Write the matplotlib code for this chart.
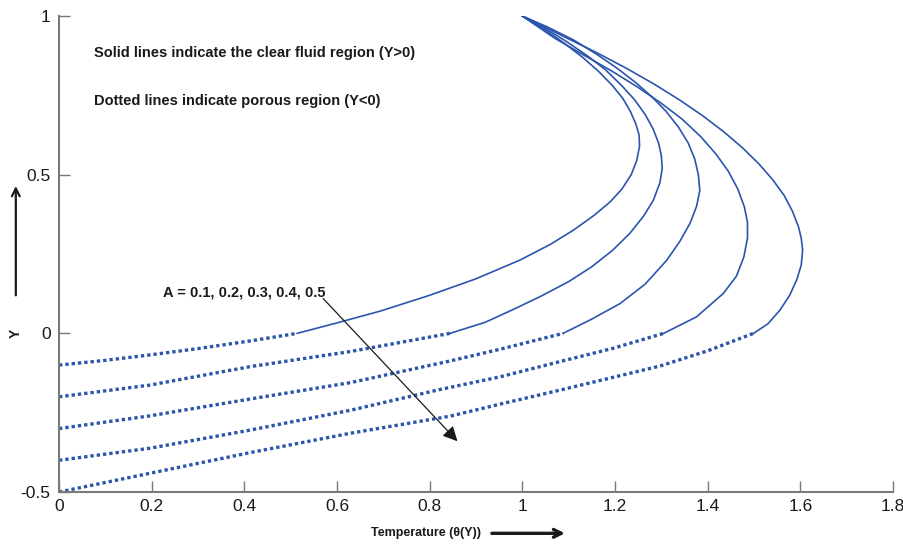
import numpy as np
import matplotlib.pyplot as plt
from matplotlib.patches import FancyArrowPatch

plt.rcParams['font.family'] = ['Liberation Sans', 'DejaVu Sans']

# Temperature profiles theta(Y) for A = 0.1 ... 0.5
A_values = [0.1, 0.2, 0.3, 0.4, 0.5]

# porous region (Y<0): dotted
porous_theta = [
    [0.0, 0.10, 0.196, 0.30, 0.412, 0.514],
    [0.0, 0.196, 0.412, 0.63, 0.844],
    [0.0, 0.196, 0.412, 0.63, 0.844, 0.952, 1.088],
    [0.0, 0.196, 0.412, 0.63, 0.822, 0.952, 1.081, 1.196, 1.305],
    [0.0, 0.196, 0.412, 0.628, 0.844, 0.952, 1.081, 1.297, 1.40, 1.499],
]
porous_Y = [
    [-0.10, -0.085, -0.068, -0.048, -0.024, 0.0],
    [-0.20, -0.163, -0.105, -0.057, 0.0],
    [-0.30, -0.260, -0.207, -0.155, -0.087, -0.050, 0.0],
    [-0.40, -0.362, -0.305, -0.242, -0.177, -0.137, -0.089, -0.047, 0.0],
    [-0.50, -0.441, -0.376, -0.315, -0.261, -0.223, -0.179, -0.103, -0.055, 0.0],
]

# clear fluid region (Y>0): solid
fluid_theta = [
    [0.514, 0.60, 0.693, 0.80, 0.90, 0.995, 1.06, 1.11, 1.155, 1.19, 1.215, 1.235,
     1.247, 1.253, 1.252, 1.245, 1.233, 1.217, 1.195, 1.165, 1.13, 1.09, 1.045, 1.0],
    [0.844, 0.92, 0.98, 1.04, 1.10, 1.15, 1.195, 1.232, 1.262, 1.283, 1.297, 1.302,
     1.300, 1.294, 1.282, 1.265, 1.243, 1.215, 1.18, 1.14, 1.095, 1.05, 1.0],
    [1.088, 1.15, 1.211, 1.265, 1.312, 1.34, 1.362, 1.376, 1.383, 1.380, 1.372,
     1.358, 1.337, 1.31, 1.28, 1.245, 1.205, 1.16, 1.11, 1.055, 1.0],
    [1.305, 1.376, 1.434, 1.462, 1.478, 1.486, 1.486, 1.479, 1.465, 1.445, 1.418,
     1.385, 1.345, 1.30, 1.25, 1.195, 1.135, 1.07, 1.0],
    [1.499, 1.53, 1.556, 1.577, 1.592, 1.602, 1.605, 1.602, 1.596, 1.583, 1.565,
     1.54, 1.51, 1.475, 1.435, 1.39, 1.34, 1.285, 1.225, 1.16, 1.09, 1.0],
]
fluid_Y = [
    [0.0, 0.033, 0.070, 0.120, 0.172, 0.231, 0.280, 0.325, 0.372, 0.415, 0.455, 0.500,
     0.545, 0.590, 0.625, 0.660, 0.700, 0.740, 0.780, 0.825, 0.870, 0.915, 0.960, 1.0],
    [0.0, 0.035, 0.075, 0.117, 0.163, 0.210, 0.262, 0.315, 0.370, 0.420, 0.475, 0.520,
     0.560, 0.600, 0.645, 0.690, 0.735, 0.780, 0.830, 0.875, 0.920, 0.960, 1.0],
    [0.0, 0.045, 0.094, 0.155, 0.231, 0.290, 0.347, 0.400, 0.450, 0.500, 0.550,
     0.600, 0.650, 0.700, 0.745, 0.790, 0.835, 0.880, 0.925, 0.965, 1.0],
    [0.0, 0.052, 0.126, 0.180, 0.240, 0.300, 0.350, 0.400, 0.455, 0.510, 0.565,
     0.620, 0.675, 0.725, 0.775, 0.825, 0.875, 0.930, 1.0],
    [0.0, 0.030, 0.073, 0.120, 0.168, 0.215, 0.262, 0.300, 0.336, 0.385, 0.435,
     0.485, 0.535, 0.585, 0.635, 0.685, 0.735, 0.785, 0.835, 0.885, 0.935, 1.0],
]

x_ticks = [0, 0.2, 0.4, 0.6, 0.8, 1, 1.2, 1.4, 1.6, 1.8]
x_labels = ['0', '0.2', '0.4', '0.6', '0.8', '1', '1.2', '1.4', '1.6', '1.8']
y_ticks = [-0.5, 0, 0.5, 1]
y_labels = ['-0.5', '0', '0.5', '1']

blue = '#2b55ad'
grey = '#7a7a7a'
ink = '#1a1a1a'

fig = plt.figure(figsize=(9.04, 5.47), dpi=100)
ax = fig.add_axes([0.0653, 0.1005, 0.9225, 0.8702])

for i in range(len(A_values)):
    ax.plot(porous_theta[i], porous_Y[i], linestyle=(0, (1, 0.9)), color=blue, lw=2.4)
    ax.plot(fluid_theta[i], fluid_Y[i], '-', color=blue, lw=1.2)

ax.set_xlim(0, 1.8)
ax.set_ylim(-0.5, 1)
ax.set_xticks(x_ticks)
ax.set_xticklabels(x_labels)
ax.set_yticks(y_ticks)
ax.set_yticklabels(y_labels)
ax.tick_params(direction='in', length=8, width=1, color=grey, labelsize=12.5,
               labelcolor=ink)
ax.tick_params(axis='y', pad=6)
ax.tick_params(axis='x', pad=5)

for side in ['top', 'right']:
    ax.spines[side].set_visible(False)
for side in ['left', 'bottom']:
    ax.spines[side].set_color(grey)
    ax.spines[side].set_linewidth(1.5)

# notes on the plot
ax.text(0.075, 0.87, 'Solid lines indicate the clear fluid region (Y>0)',
        fontsize=10.5, fontweight='bold', color=ink)
ax.text(0.075, 0.72, 'Dotted lines indicate porous region (Y<0)',
        fontsize=10.5, fontweight='bold', color=ink)
ax.text(0.225, 0.115, 'A = 0.1, 0.2, 0.3, 0.4, 0.5',
        fontsize=10.5, fontweight='bold', color=ink)
ax.annotate('', xy=(0.86, -0.34), xytext=(0.57, 0.11),
            arrowprops=dict(arrowstyle='-|>', color=ink, lw=0.9,
                            mutation_scale=22, shrinkA=0, shrinkB=0))

# axis labels with arrows
fig.text(0.410, 0.025, 'Temperature (\u03b8(Y))', fontsize=9, fontweight='bold',
         ha='left', va='center', color=ink)
fig.patches.append(FancyArrowPatch(
    (0.541, 0.025), (0.628, 0.025), transform=fig.transFigure,
    arrowstyle='->', mutation_scale=14, lw=2.4, color=ink))
fig.text(0.017, 0.39, 'Y', fontsize=10, fontweight='bold', rotation=90,
         ha='center', va='center', color=ink)
fig.patches.append(FancyArrowPatch(
    (0.0175, 0.455), (0.0175, 0.665), transform=fig.transFigure,
    arrowstyle='->', mutation_scale=14, lw=1.6, color=ink))

fig.savefig('out.png', dpi=100)
